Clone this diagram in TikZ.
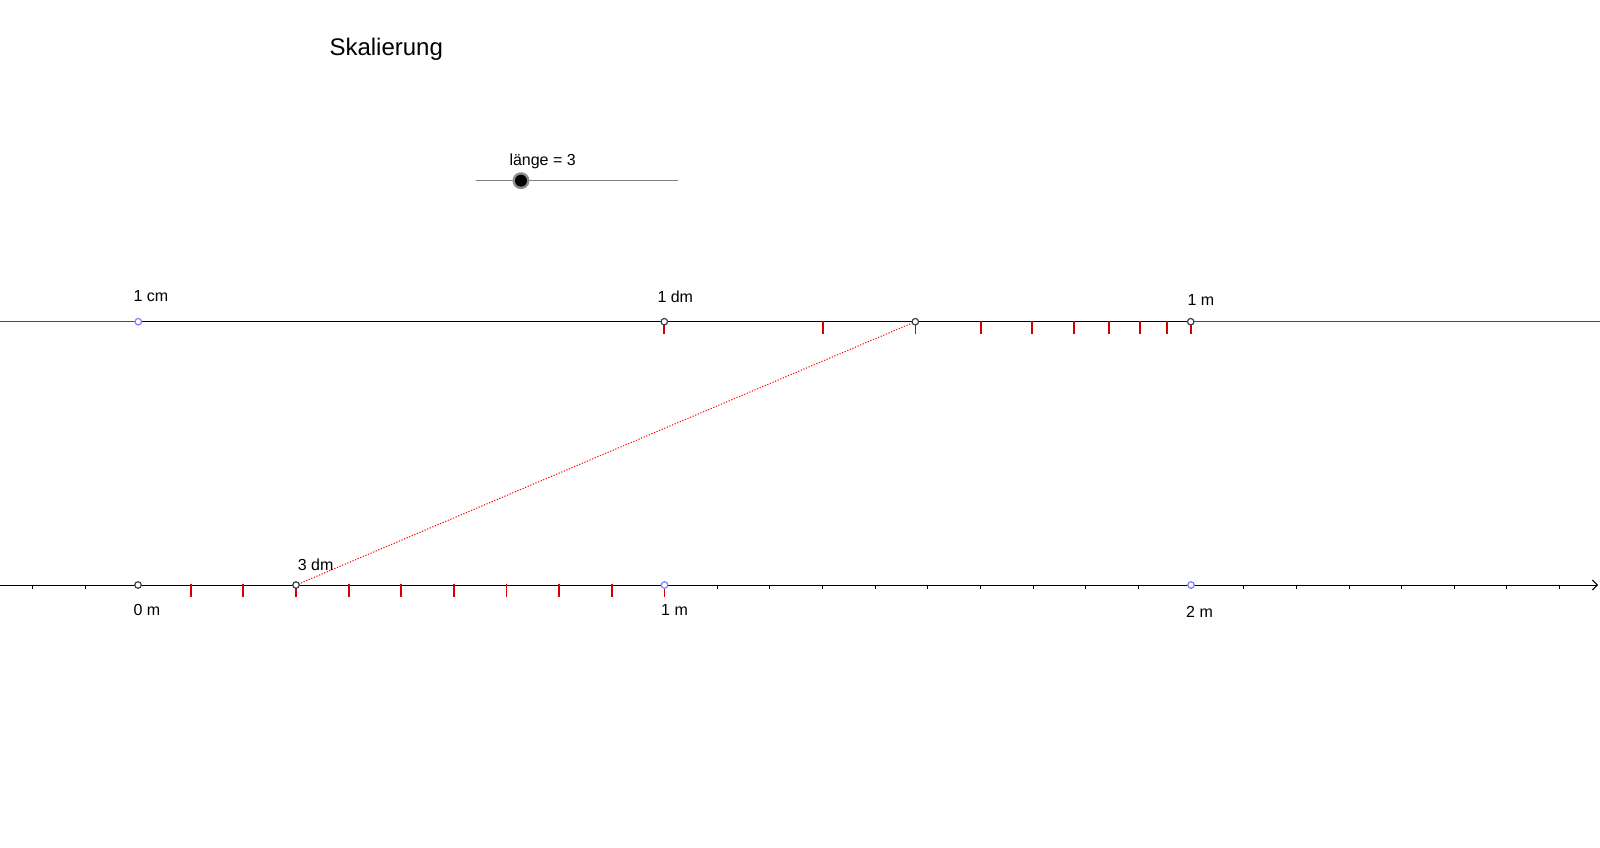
\documentclass[tikz,border=0pt]{standalone}
\usepackage{fontspec}
\setmainfont{Liberation Sans}
\usetikzlibrary{arrows.meta}
\definecolor{ptblue}{HTML}{7F7FFF}
\definecolor{ptgray}{HTML}{404040}
\definecolor{tickred}{HTML}{D00000}
\tikzset{
  lbl/.style={anchor=base west,inner sep=0pt,font=\fontsize{16}{19}\selectfont},
  titlelbl/.style={anchor=base west,inner sep=0pt,font=\fontsize{24}{28}\selectfont},
  redtick/.style={draw=tickred,line width=1.8pt},
  axtick/.style={draw=black,line width=0.9pt},
  grayline/.style={draw=black!70,line width=1.4pt},
  segline/.style={draw=black,line width=1.4pt},
  dottedred/.style={draw=red,line width=1pt,dash pattern=on 1.2pt off 1.6pt},
  bluept/.style={circle,draw=ptblue,fill=white,line width=1.2pt,minimum size=6.5pt,inner sep=0pt},
  graypt/.style={circle,draw=ptgray,fill=white,line width=1.2pt,minimum size=6.5pt,inner sep=0pt},
}
\begin{document}
\begin{tikzpicture}[x=1pt,y=-1pt]
\useasboundingbox (0,0) rectangle (1600,848);
% title
\node[titlelbl] (title) at (329.3,55.7) {Skalierung};
% slider
\coordinate (sl1) at (475.5,180.5);
\coordinate (sl2) at (677.6,180.5);
\draw[draw=black!50,line width=0.9pt] (sl1) -- (sl2);
\node[lbl] (sllbl) at (509.3,165) {länge = 3};
\node[circle,fill=black!45,minimum size=17pt,inner sep=0pt] (knobring) at (521,180.7) {};
\node[circle,fill=black,minimum size=12pt,inner sep=0pt] (knob) at (521,180.7) {};
% top logarithmic line
\coordinate (tl) at (0,321.7);
\coordinate (tr) at (1600,321.7);
\coordinate (cm) at (138.3,321.7);
\coordinate (dm) at (664.3,321.7);
\coordinate (mtop) at (1190.7,321.7);
\coordinate (dm3) at (915.3,321.7);
\draw[grayline] (tl) -- (tr);
\draw[segline] (cm) -- (mtop);
\foreach \v in {1,...,10}{
  \pgfmathsetmacro{\xx}{664.3+526.4*log10(\v)}
  \draw[redtick] (\xx,320.5) -- (\xx,333.5);
}
% bottom axis
\coordinate (al) at (0,585);
\coordinate (ar) at (1598,585);
\coordinate (m0) at (138,585);
\coordinate (m1) at (664.5,585);
\coordinate (m2) at (1191,585);
\coordinate (b3) at (296,585);
\draw[line width=1pt,-{Straight Barb[length=5pt,width=10pt,line width=1pt]}] (al) -- (ar);
\foreach \k in {-2,-1,0,11,12,...,27}{
  \draw[axtick] (138+52.65*\k,585) -- (138+52.65*\k,589);
}
\foreach \k in {1,...,10}{
  \draw[redtick] (138+52.65*\k,584) -- (138+52.65*\k,597);
}
% dotted connection
\draw[dottedred] (dm3) -- (b3);
% points
\node[bluept] (pcm) at (cm) {};
\node[graypt] (pdm) at (dm) {};
\node[graypt] (pm) at (mtop) {};
\node[graypt] (pdm3) at (dm3) {};
\node[graypt] (p0) at (m0) {};
\node[graypt] (p3) at (b3) {};
\node[bluept] (p1) at (m1) {};
\node[bluept] (p2) at (m2) {};
% labels
\node[lbl] (l1cm) at (133.3,301) {1 cm};
\node[lbl] (l1dm) at (657.3,302.7) {1 dm};
\node[lbl] (l1m) at (1187.3,305) {1 m};
\node[lbl] (l3dm) at (297.7,570) {3 dm};
\node[lbl] (l0m) at (133.3,615) {0 m};
\node[lbl] (lb1m) at (661,615) {1 m};
\node[lbl] (lb2m) at (1186,617) {2 m};
\end{tikzpicture}
\end{document}
